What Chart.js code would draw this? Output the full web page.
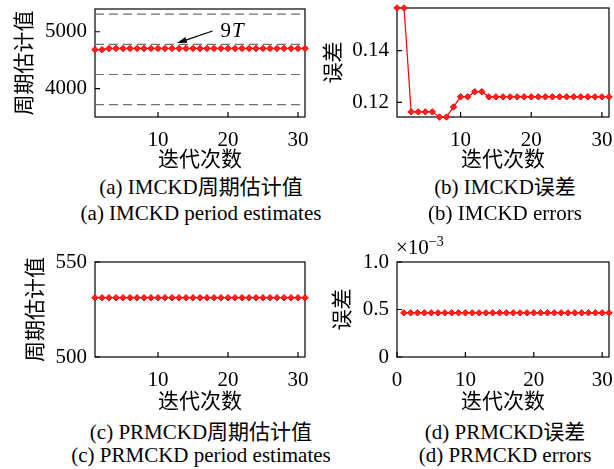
<!DOCTYPE html>
<html>
<head>
<meta charset="utf-8">
<script src="https://cdn.jsdelivr.net/npm/chart.js@4.4.1/dist/chart.umd.min.js"></script>
<style>
  body { margin: 0; background: #fff; }
  #wrap { position: relative; width: 614px; height: 469px; overflow: hidden; font-family: 'Liberation Serif', 'Noto Sans CJK SC', serif; }
  canvas { position: absolute; }
  .cap { position: absolute; width: 320px; text-align: center; font-size: 21px; line-height: 24px; color: #000; white-space: nowrap; }
  #expo { position: absolute; left: 396px; top: 237px; font-size: 21px; line-height: 21px; }
  #expo sup { font-size: 14px; vertical-align: 8px; line-height: 0; }
</style>
</head>
<body>
<div id="wrap">
  <canvas id="ca" width="310" height="173" style="left:0;top:0"></canvas>
  <canvas id="cb" width="304" height="173" style="left:310px;top:0"></canvas>
  <canvas id="cc" width="310" height="175" style="left:0;top:240px"></canvas>
  <canvas id="cd" width="304" height="175" style="left:310px;top:240px"></canvas>
  <div id="expo">×10<sup>−3</sup></div>
  <div class="cap" style="left:41px;top:175px">(a) IMCKD周期估计值</div>
  <div class="cap" style="left:41px;top:201px">(a) IMCKD period estimates</div>
  <div class="cap" style="left:345px;top:175px">(b) IMCKD误差</div>
  <div class="cap" style="left:345px;top:201px">(b) IMCKD errors</div>
  <div class="cap" style="left:41px;top:420px">(c) PRMCKD周期估计值</div>
  <div class="cap" style="left:41px;top:443px">(c) PRMCKD period estimates</div>
  <div class="cap" style="left:345px;top:420px">(d) PRMCKD误差</div>
  <div class="cap" style="left:345px;top:443px">(d) PRMCKD errors</div>
</div>
<script>
// iteration numbers
const iters = [1, 2, 3, 4, 5, 6, 7, 8, 9, 10, 11, 12, 13, 14, 15, 16, 17, 18, 19, 20,
               21, 22, 23, 24, 25, 26, 27, 28, 29, 30, 31];

// (a) IMCKD period estimates + harmonics of the fault period (7T..10T)
const imckdPeriod = [4685, 4685, 4706, 4706, 4706, 4706, 4706, 4706, 4706, 4706, 4706,
                     4706, 4706, 4706, 4706, 4706, 4706, 4706, 4706, 4706, 4706, 4706,
                     4706, 4706, 4706, 4706, 4706, 4706, 4706, 4706, 4706];
const harmonics = [3717, 4248, 4779, 5310];

// (b) IMCKD errors
const imckdError = [0.1565, 0.1565, 0.1163, 0.1163, 0.1163, 0.1163, 0.1143, 0.1143, 0.1182, 0.1221,
                    0.1221, 0.1241, 0.1241, 0.1221, 0.1221, 0.1221, 0.1221, 0.1221, 0.1221, 0.1221,
                    0.1221, 0.1221, 0.1221, 0.1221, 0.1221, 0.1221, 0.1221, 0.1221, 0.1221, 0.1221,
                    0.1221];

// (c) PRMCKD period estimates
const prmckdPeriod = [531.2, 531.2, 531.2, 531.2, 531.2, 531.2, 531.2, 531.2, 531.2, 531.2,
                      531.2, 531.2, 531.2, 531.2, 531.2, 531.2, 531.2, 531.2, 531.2, 531.2,
                      531.2, 531.2, 531.2, 531.2, 531.2, 531.2, 531.2, 531.2, 531.2, 531.2,
                      531.2];

// (d) PRMCKD errors
const prmckdError = [4.65e-4, 4.65e-4, 4.65e-4, 4.65e-4, 4.65e-4, 4.65e-4, 4.65e-4, 4.65e-4,
                     4.65e-4, 4.65e-4, 4.65e-4, 4.65e-4, 4.65e-4, 4.65e-4, 4.65e-4, 4.65e-4,
                     4.65e-4, 4.65e-4, 4.65e-4, 4.65e-4, 4.65e-4, 4.65e-4, 4.65e-4, 4.65e-4,
                     4.65e-4, 4.65e-4, 4.65e-4, 4.65e-4, 4.65e-4, 4.65e-4, 4.65e-4];

// tick labels
const xTicks = [10, 20, 30];
const xTicksD = [0, 10, 20, 30];
const yTicksA = [4000, 5000];
const yTicksB = [0.12, 0.14];
const yTicksC = [500, 550];
const yTicksD = [0, 0.0005, 0.001];

// arrow annotation for 9T in (a), data coordinates
const arrowFrom = [17.8, 5013];
const arrowTo = [12.7, 4801];

const FONT = "'Liberation Serif', 'Noto Sans CJK SC', serif";
Chart.defaults.font.family = FONT;
Chart.defaults.font.size = 21;
Chart.defaults.color = '#000';

function pts(ys) { return ys.map((v, i) => ({x: iters[i], y: v})); }

// black box + inward ticks
const frame = {
  id: 'frame',
  beforeDatasetsDraw(chart) {
    const {ctx, chartArea: a, scales: {x, y}} = chart;
    ctx.save();
    ctx.strokeStyle = '#000';
    ctx.lineWidth = 1.2;
    ctx.strokeRect(a.left, a.top, a.right - a.left, a.bottom - a.top);
    ctx.beginPath();
    x.ticks.forEach(t => {
      const px = x.getPixelForValue(t.value);
      ctx.moveTo(px, a.bottom); ctx.lineTo(px, a.bottom - 5);
    });
    y.ticks.forEach(t => {
      const py = y.getPixelForValue(t.value);
      ctx.moveTo(a.left, py); ctx.lineTo(a.left + 5, py);
    });
    ctx.stroke();
    ctx.restore();
  }
};

const arrow = {
  id: 'arrow',
  afterDatasetsDraw(chart) {
    const {ctx, scales: {x, y}} = chart;
    const x0 = x.getPixelForValue(arrowFrom[0]), y0 = y.getPixelForValue(arrowFrom[1]);
    const x1 = x.getPixelForValue(arrowTo[0]), y1 = y.getPixelForValue(arrowTo[1]);
    const ang = Math.atan2(y1 - y0, x1 - x0);
    ctx.save();
    ctx.strokeStyle = '#000';
    ctx.fillStyle = '#000';
    ctx.lineWidth = 1.2;
    ctx.beginPath();
    ctx.moveTo(x0, y0);
    ctx.lineTo(x1 - 7 * Math.cos(ang), y1 - 7 * Math.sin(ang));
    ctx.stroke();
    ctx.beginPath();
    ctx.moveTo(x1, y1);
    ctx.lineTo(x1 - 10 * Math.cos(ang) + 3 * Math.sin(ang), y1 - 10 * Math.sin(ang) - 3 * Math.cos(ang));
    ctx.lineTo(x1 - 10 * Math.cos(ang) - 3 * Math.sin(ang), y1 - 10 * Math.sin(ang) + 3 * Math.cos(ang));
    ctx.closePath();
    ctx.fill();
    ctx.textBaseline = 'middle';
    ctx.font = '21px ' + FONT;
    ctx.fillText('9', x0 + 8, y0);
    const w = ctx.measureText('9').width;
    ctx.font = 'italic 21px ' + FONT;
    ctx.fillText('T', x0 + 8 + w + 1, y0);
    ctx.restore();
  }
};

function lineSet(ys) {
  return {
    data: pts(ys),
    borderColor: '#ff0000',
    backgroundColor: '#ff2020',
    borderWidth: 1.2,
    pointStyle: 'rectRot',
    pointRadius: 3.2,
    pointBorderWidth: 1,
    pointBorderColor: '#ff0000',
    clip: false
  };
}

function makeChart(id, opt) {
  return new Chart(document.getElementById(id), {
    type: 'line',
    data: {datasets: opt.datasets},
    options: {
      responsive: false,
      animation: false,
      events: [],
      layout: {padding: {top: opt.padTop, right: opt.padRight, left: 0, bottom: 0}},
      plugins: {legend: {display: false}, tooltip: {enabled: false}},
      scales: {
        x: {
          type: 'linear',
          min: opt.xMin, max: 31,
          grid: {display: false, drawTicks: false},
          border: {display: false},
          ticks: {padding: 11, maxRotation: 0},
          afterBuildTicks: s => { s.ticks = opt.xTicks.map(v => ({value: v})); },
          afterFit: s => { s.height = opt.xHeight; s.paddingLeft = 0; s.paddingRight = 0; },
          title: {display: true, text: '迭代次数', padding: {top: 0, bottom: 0}}
        },
        y: {
          min: opt.yMin, max: opt.yMax,
          grid: {display: false, drawTicks: false},
          border: {display: false},
          ticks: {padding: 8, callback: opt.fmt},
          afterBuildTicks: s => { s.ticks = opt.yTicks.map(v => ({value: v})); },
          afterFit: s => { s.width = opt.yWidth; s.paddingTop = 0; s.paddingBottom = 0; },
          title: {display: true, text: opt.yTitle, padding: {top: opt.yTitlePad, bottom: 0}}
        }
      }
    },
    plugins: opt.plugins || [frame]
  });
}

const harmonicSets = harmonics.map(h => ({
  data: [{x: 1, y: h}, {x: 31, y: h}],
  borderColor: '#707070',
  borderWidth: 1.2,
  borderDash: [9, 5],
  pointRadius: 0
}));

makeChart('ca', {
  datasets: [...harmonicSets, lineSet(imckdPeriod)],
  xMin: 1, xTicks: xTicks, xHeight: 56,
  yMin: 3500, yMax: 5400, yTicks: yTicksA, yWidth: 95,
  yTitle: '周期估计值', yTitlePad: 13, padTop: 9, padRight: 3,
  fmt: v => String(v),
  plugins: [frame, arrow]
});

makeChart('cb', {
  datasets: [lineSet(imckdError)],
  xMin: 1, xTicks: xTicks, xHeight: 56,
  yMin: 0.1143, yMax: 0.1565, yTicks: yTicksB, yWidth: 87,
  yTitle: '误差', yTitlePad: 12, padTop: 8, padRight: 5,
  fmt: v => v.toFixed(2)
});

makeChart('cc', {
  datasets: [lineSet(prmckdPeriod)],
  xMin: 1, xTicks: xTicks, xHeight: 58,
  yMin: 500, yMax: 550, yTicks: yTicksC, yWidth: 95,
  yTitle: '周期估计值', yTitlePad: 24, padTop: 22, padRight: 3,
  fmt: v => String(v)
});

makeChart('cd', {
  datasets: [lineSet(prmckdError)],
  xMin: 0, xTicks: xTicksD, xHeight: 58,
  yMin: 0, yMax: 0.001, yTicks: yTicksD, yWidth: 87,
  yTitle: '误差', yTitlePad: 21, padTop: 22, padRight: 5,
  fmt: v => v === 0 ? '0' : (v * 1000).toFixed(1)
});
</script>
</body>
</html>
